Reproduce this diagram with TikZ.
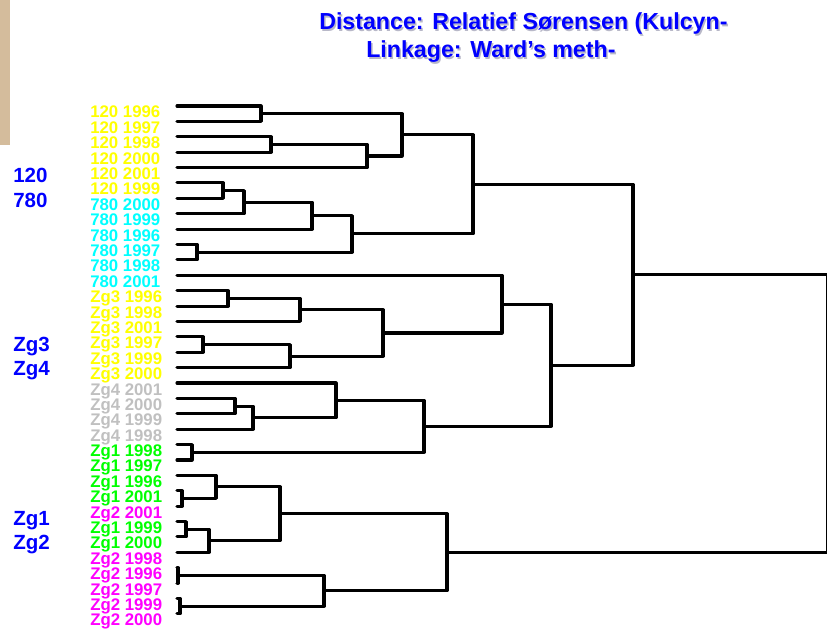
\documentclass[tikz,border=0pt]{standalone}
\usepackage{fontspec}
\setmainfont{Liberation Sans}
\usetikzlibrary{calc}
\definecolor{yel}{HTML}{FFFF00}
\definecolor{cya}{HTML}{00FFFF}
\definecolor{gry}{HTML}{C0C0C0}
\definecolor{grn}{HTML}{00FF00}
\definecolor{mag}{HTML}{FF00FF}
\definecolor{tblue}{HTML}{0000FF}
\definecolor{tanbar}{HTML}{D4BC9C}
\definecolor{shad}{HTML}{B8B8C8}
\newcommand\mrg[4]{%
  \path (#2) -- (#3) coordinate[pos=0.5] (tmp#1);
  \coordinate (#1) at (#4,0 |- tmp#1);
  \draw[br] (#2) -| (#1) |- (#3);}
\begin{document}
\begin{tikzpicture}[x=0.75pt,y=-0.75pt,
  br/.style={line width=2.3pt, line cap=round, line join=round},
  lab/.style={anchor=base west, inner sep=0, font=\fontsize{12.6}{14}\selectfont\bfseries},
  grp/.style={anchor=base west, inner sep=0, text=tblue, font=\fontsize{15.4}{18}\selectfont\bfseries},
  ttl/.style={anchor=base west, inner sep=0, text=tblue, font=\fontsize{17.4}{20}\selectfont\bfseries}]
\useasboundingbox (0,0) rectangle (827,630);
\fill[tanbar] (0,0) rectangle (10,145);
% title (with soft shadow)
\node[ttl,text=shad] (title1s) at (320.5,31.5) {Distance: Relatief Sørensen (Kulcyn-};
\node[ttl,text=shad] (title2s) at (367.5,59.5) {Linkage: Ward’s meth-};
\node[ttl] (title1) at (319,30) {Distance: Relatief Sørensen (Kulcyn-};
\node[ttl] (title2) at (366,58) {Linkage: Ward’s meth-};
% group labels
\node[grp] (g1) at (13,183) {120};
\node[grp] (g2) at (13,208) {780};
\node[grp] (g3) at (13,352) {Zg3};
\node[grp] (g4) at (13,376) {Zg4};
\node[grp] (g5) at (13,525) {Zg1};
\node[grp] (g6) at (13,549) {Zg2};
% leaves
\foreach \lbl/\col [count=\i] in {
  120 1996/yel, 120 1997/yel, 120 1998/yel, 120 2000/yel, 120 2001/yel, 120 1999/yel,
  780 2000/cya, 780 1999/cya, 780 1996/cya, 780 1997/cya, 780 1998/cya, 780 2001/cya,
  Zg3 1996/yel, Zg3 1998/yel, Zg3 2001/yel, Zg3 1997/yel, Zg3 1999/yel, Zg3 2000/yel,
  Zg4 2001/gry, Zg4 2000/gry, Zg4 1999/gry, Zg4 1998/gry,
  Zg1 1998/grn, Zg1 1997/grn, Zg1 1996/grn, Zg1 2001/grn, Zg2 2001/mag,
  Zg1 1999/grn, Zg1 2000/grn, Zg2 1998/mag, Zg2 1996/mag, Zg2 1997/mag,
  Zg2 1999/mag, Zg2 2000/mag} {
  \pgfmathsetmacro\yy{106+(\i-1)*15.39}
  \coordinate (l\i) at (177,\yy);
  \node[lab,text=\col] (t\i) at (90,\yy+12) {\lbl};
}
% merges
\mrg{A}{l1}{l2}{261}
\mrg{B}{l3}{l4}{271}
\mrg{B5}{B}{l5}{367}
\mrg{F}{A}{B5}{402}
\mrg{C}{l6}{l7}{223}
\mrg{D}{C}{l8}{244}
\mrg{G}{D}{l9}{312}
\mrg{E}{l10}{l11}{197}
\mrg{H}{G}{E}{352}
\mrg{I}{F}{H}{473}
\mrg{La}{l13}{l14}{228}
\mrg{Lb}{La}{l15}{300}
\mrg{Ma}{l16}{l17}{203}
\mrg{Mb}{Ma}{l18}{290}
\mrg{K}{Lb}{Mb}{383}
\mrg{J}{l12}{K}{502}
\mrg{Na}{l20}{l21}{235}
\mrg{Nb}{Na}{l22}{253}
\mrg{Nc}{l19}{Nb}{336}
\mrg{P}{l23}{l24}{192}
\mrg{Q}{Nc}{P}{424}
\mrg{R}{J}{Q}{551}
\mrg{S}{I}{R}{633}
\mrg{Ta}{l26}{l27}{182}
\mrg{Tb}{l25}{Ta}{216}
\mrg{Ua}{l28}{l29}{186}
\mrg{Ub}{Ua}{l30}{209}
\mrg{V}{Tb}{Ub}{280}
\mrg{Wa}{l31}{l32}{178}
\mrg{Wb}{l33}{l34}{180}
\mrg{W}{Wa}{Wb}{324}
\mrg{X}{V}{W}{447}
\mrg{Root}{S}{X}{827.5}
\end{tikzpicture}
\end{document}
